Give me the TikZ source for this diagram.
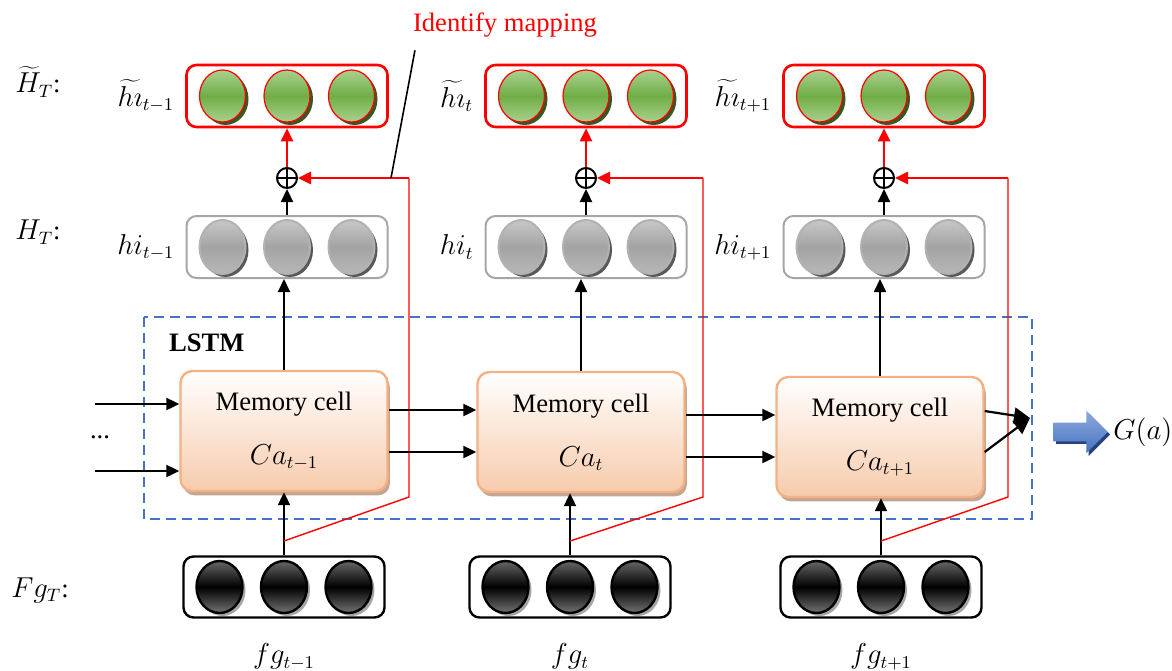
\documentclass[tikz,border=0pt]{standalone}
\usepackage{fontspec}
\setmainfont{Liberation Serif}
\newfontfamily\cellfont{Liberation Serif}
\usetikzlibrary{positioning,shapes.geometric,shapes.arrows,shadows,arrows.meta}

\definecolor{cellline}{RGB}{244,177,131}
\definecolor{cellfill}{RGB}{247,203,172}
\definecolor{cellshadow}{RGB}{196,165,145}
\definecolor{lstmblue}{RGB}{68,114,196}
\definecolor{lightblue}{RGB}{143,170,220}
\definecolor{darkblue}{RGB}{38,68,120}
\definecolor{leafgreen}{RGB}{112,173,71}
\definecolor{leaflight}{RGB}{169,209,142}
\definecolor{leafdark}{RGB}{56,87,35}

\tikzset{
	arr/.style = {line width=1.1pt, -{Triangle[length=6.5pt,width=6pt]}},
	bigarr/.style = {line width=1.1pt, -{Triangle[length=8pt,width=8pt]}},
	redarr/.style = {red, line width=1.3pt, -{Triangle[length=6.5pt,width=6pt]}},
	redline/.style = {red, line width=0.7pt},
	gbox/.style = {draw=red, line width=1.3pt, rounded corners=5pt, minimum width=100.5pt, minimum height=31pt},
	hbox/.style = {draw=black!35, line width=1pt, rounded corners=5pt, minimum width=100.5pt, minimum height=31pt},
	fbox/.style = {draw=black, line width=1.2pt, rounded corners=5pt, minimum width=100.5pt, minimum height=30.5pt},
	gball/.style = {ellipse, draw=red, line width=0.6pt, inner sep=0pt, minimum width=23pt, minimum height=26pt,
		top color=leaflight, bottom color=leaflight, middle color=leafgreen,
		drop shadow={shadow xshift=1.5pt, shadow yshift=-1.5pt, fill=leafdark, opacity=1}},
	hball/.style = {ellipse, draw=black!30, line width=1pt, inner sep=0pt, minimum width=23pt, minimum height=27pt,
		top color=black!22, bottom color=black!28, middle color=black!36,
		drop shadow={shadow xshift=1.5pt, shadow yshift=-1.5pt, fill=black!65, opacity=1}},
	fball/.style = {ellipse, draw=black, line width=1.2pt, inner sep=0pt, minimum width=23pt, minimum height=26pt,
		top color=black!60, bottom color=black!55, middle color=black,
		drop shadow={shadow xshift=1.5pt, shadow yshift=-1.5pt, fill=black!35, opacity=1}},
	cell/.style = {draw=cellline, line width=1.2pt, rounded corners=6pt, minimum width=103.5pt, minimum height=60pt,
		top color=white, bottom color=cellfill, align=center,
		drop shadow={shadow xshift=1.2pt, shadow yshift=-2.2pt, fill=cellshadow, opacity=1}},
	plusnode/.style = {circle, draw, line width=1pt, inner sep=0pt, minimum size=10pt, fill=white,
		path picture={\draw[line width=1pt] (path picture bounding box.north) -- (path picture bounding box.south)
			(path picture bounding box.west) -- (path picture bounding box.east);}},
	lstmbox/.style = {draw=lstmblue, line width=1.2pt, dash pattern=on 5pt off 3pt},
	bigarrow/.style = {single arrow, draw=none, inner sep=4.5pt, minimum height=27pt,
		single arrow head extend=6pt, top color=lightblue, bottom color=lstmblue,
		drop shadow={shadow xshift=1.2pt, shadow yshift=-1.2pt, fill=darkblue, opacity=1}}
}

\begin{document}
\begin{tikzpicture}[x=0.5pt, y=-0.5pt, font=\cellfont\fontsize{13.3}{16}\selectfont]
	\useasboundingbox (0,0) rectangle (1172,670);
	
	% LSTM frame
	\draw[lstmbox] (144,317) rectangle (1032,519);
	\node[font=\cellfont\fontsize{13.3}{16}\selectfont\bfseries, anchor=west] (lstm) at (162,343) {LSTM};
	
	% columns
	\foreach \i/\x/\xc/\yc/\xf/\xr/\s in {1/287/284/431/284/409/{t-1}, 2/586/581/432/570/703/t, 3/884/880/437/881/1008/{t+1}}{
		\node[gbox] (gbox\i) at (\x,96) {};
		\node[hbox] (hbox\i) at (\x,247) {};
		\node[fbox] (fbox\i) at (\xf,587) {};
		\foreach \k in {1,2,3}{
			\node[gball] (g\i\k) at (\x+64.5*\k-129,96) {};
			\node[hball] (h\i\k) at (\x+64.5*\k-129,247) {};
			\node[fball] (f\i\k) at (\xf+64.5*\k-129,587) {};
		}
		\node[plusnode] (plus\i) at (\x,178) {};
		\node[cell] (cell\i) at (\xc,\yc) {Memory cell\\[11pt]$Ca_{\s}$};
		
		% labels
		\node[left=2pt of gbox\i] (gl\i) {$\widetilde{h\imath}_{\s}$};
		\node[left=2pt of hbox\i] (hl\i) {$hi_{\s}$};
		\node[below=9pt of fbox\i] (fl\i) {$fg_{\s}$};
		
		% links
		\draw[arr] (fbox\i.north) -- (fbox\i.north |- cell\i.south);
		\draw[arr] (cell\i.north) -- (cell\i.north |- hbox\i.south);
		\draw[arr] (hbox\i.north) -- (plus\i.south);
		\draw[redarr] (plus\i.north) -- (gbox\i.south);
		
		% identity path
		\coordinate (split\i) at (\xf,541);
		\coordinate (turn\i) at (\xr,178);
		\draw[redline] (split\i) -- (\xr,497) -- (turn\i);
		\draw[redarr] (turn\i) -- (plus\i.east);
	}
	
	% cell to cell
	\draw[arr] (cell1.east |- 0,410) -- (cell2.west |- 0,410);
	\draw[arr] (cell1.east |- 0,452) -- (cell2.west |- 0,452);
	\draw[arr] (cell2.east |- 0,415) -- (cell3.west |- 0,415);
	\draw[arr] (cell2.east |- 0,457) -- (cell3.west |- 0,457);
	
	% inputs
	\coordinate (in1) at (95,404);
	\coordinate (in2) at (95,471);
	\draw[arr] (in1) -- (cell1.west |- in1);
	\draw[arr] (in2) -- (cell1.west |- in2);
	\node (dots) at (100,437) {...};
	
	% output
	\coordinate (merge) at (1030,418);
	\draw[bigarr] (cell3.east |- 0,411) -- (merge);
	\draw[bigarr] (cell3.east |- 0,452) -- (merge);
	\node[bigarrow] (gout) at (1076,432) {};
	\node[anchor=west, inner sep=0pt] (ga) at (1113,432) {$G(a)$};
	
	% row labels
	\node (ht) at (38,82) {$\widetilde{H}_T$:};
	\node (hh) at (38,232) {$H_T$:};
	\node (fg) at (40,590) {$Fg_T$:};
	
	% Identify mapping
	\node[red] (idmap) at (505,25) {Identify mapping};
	\coordinate (tick) at (391,178);
	\draw[line width=0.8pt] (tick) -- ([xshift=4.5pt,yshift=-3pt]idmap.south west);
	
\end{tikzpicture}
\end{document}
